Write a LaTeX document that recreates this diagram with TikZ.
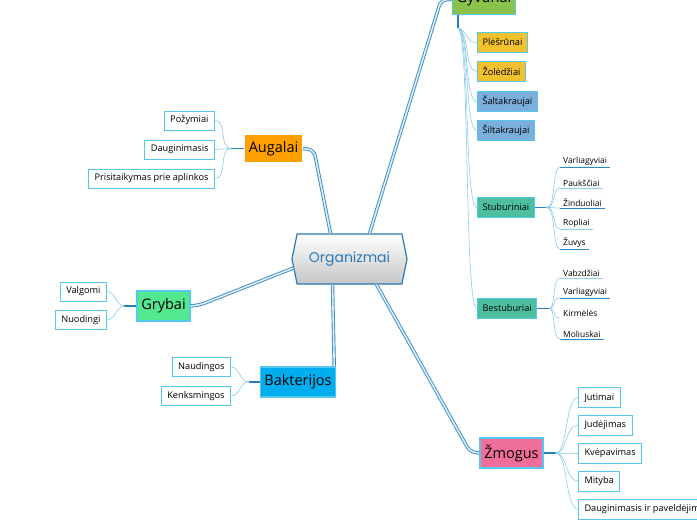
\documentclass[tikz,border=0pt]{standalone}
\usepackage{fontspec}
\setmainfont{Open Sans}
\newfontfamily\orgfont{Poppins}
\usetikzlibrary{shapes.symbols}
\definecolor{orgblue}{HTML}{2A7AB8}
\definecolor{trunkblue}{HTML}{3A8CC8}
\definecolor{trunkfill}{HTML}{DDEEF9}
\definecolor{twigblue}{HTML}{8ACBEA}
\definecolor{stubblue}{HTML}{2A7FC0}
\definecolor{leafborder}{HTML}{55C8F0}
\definecolor{lineA}{HTML}{2A8AD0}
\definecolor{lineB}{HTML}{8CD0F0}
\definecolor{augalai}{HTML}{FF9F00}
\definecolor{grybai}{HTML}{52E890}
\definecolor{bakterijos}{HTML}{00AEEF}
\definecolor{gyvunai}{HTML}{8BC34A}
\definecolor{zmogus}{HTML}{F06E9C}
\definecolor{geltona}{HTML}{F2C12E}
\definecolor{melyna}{HTML}{7BAEDB}
\definecolor{zalsva}{HTML}{4DBF9F}
\tikzset{
  trunk/.style={draw=trunkblue, double=trunkfill, double distance=1.6pt, line width=0.9pt, rounded corners=6pt},
  twig/.style={draw=twigblue, line width=0.6pt},
  stub/.style={draw=stubblue, line width=1.2pt},
  topic/.style={draw=leafborder, line width=1.2pt, minimum height=30pt, inner xsep=4pt, font=\fontsize{14.5}{16}\selectfont},
  leaf/.style={draw=leafborder, line width=1pt, fill=white, minimum height=19pt, inner xsep=6pt, font=\fontsize{9.2}{11}\selectfont},
  subleaf/.style={leaf, anchor=west, minimum height=20pt, inner xsep=5pt},
  tag/.style={anchor=south west, inner xsep=3pt, inner ysep=1.5pt, font=\fontsize{8.4}{10}\selectfont}
}
\begin{document}
\begin{tikzpicture}[x=1pt,y=-1pt]
\useasboundingbox (0,0) rectangle (697,520);

\node[signal, signal to=east and west, signal pointer angle=157, draw=orgblue, line width=1.2pt,
      top color=white, bottom color=gray!45, minimum width=115pt, minimum height=50pt,
      text=orgblue, font=\orgfont\fontsize{14}{16}\selectfont] (org) at (349.5,259) {Organizmai};

\node[topic, fill=augalai, draw=none, minimum width=57pt, minimum height=27pt] (augalai) at (273.5,148.5) {Augalai};
\node[topic, fill=grybai, minimum width=53pt] (grybai) at (163.5,306) {Grybai};
\node[topic, fill=bakterijos, minimum width=74pt] (bakt) at (298,382) {Bakterijos};
\node[topic, fill=gyvunai, minimum width=62pt, anchor=south west] (gyvunai) at (452,15) {Gyvūnai};
\node[topic, fill=zmogus, minimum width=63pt] (zmogus) at (511.5,453) {Žmogus};

% pagrindines sakos
\draw[trunk] (augalai.east) -- (314,150) -- ([xshift=-19pt]org.north);
\draw[trunk] ([xshift=20pt]org.north) -- (441,0) -- (gyvunai.west);
\draw[trunk] ([xshift=2pt,yshift=-9pt]org.west) -- (200,305) -- (grybai.east);
\draw[trunk] ([xshift=-17pt]org.south) -- ([xshift=-2pt]bakt.north east);
\draw[trunk] ([xshift=27pt]org.south) -- (470,452) -- (zmogus.west);

% augalai
\foreach \name/\txt/\y in {pozymiai/Požymiai/120.5, daug/Dauginimasis/149.5, prisit/Prisitaikymas prie aplinkos/178.5}
\node[leaf, anchor=east] (\name) at (215,\y) {\txt};
\draw[stub] (augalai.west) -- ++(-13,0) coordinate (aj);
\foreach \name in {pozymiai,daug,prisit}
\draw[twig] (aj) to[out=180,in=0] (\name.east);

% grybai
\foreach \name/\txt/\y in {valg/Valgomi/291.5, nuod/Nuodingi/320}
\node[leaf, anchor=east] (\name) at (107,\y) {\txt};
\draw[stub] (grybai.west) -- ++(-12,0) coordinate (gr);
\foreach \name in {valg,nuod}
\draw[twig] (gr) to[out=180,in=0] (\name.east);

% bakterijos
\foreach \name/\txt/\y in {naud/Naudingos/367, kenks/Kenksmingos/396}
\node[leaf, anchor=east] (\name) at (231,\y) {\txt};
\draw[stub] (bakt.west) -- ++(-11,0) coordinate (bk);
\foreach \name in {naud,kenks}
\draw[twig] (bk) to[out=180,in=0] (\name.east);

% gyvunai
\foreach \name/\txt/\col/\y in {plesr/Plėšrūnai/geltona/42.5, zoled/Žolėdžiai/geltona/71.5, salt/Šaltakraujai/melyna/101.5,
  silt/Šiltakraujai/melyna/130.5, stuburiniai/Stuburiniai/zalsva/207.5, bestuburiai/Bestuburiai/zalsva/308.5}
\node[subleaf, fill=\col] (\name) at (477,\y) {\txt};
\draw[stub] ([xshift=6pt]gyvunai.south west) -- ++(0,13) coordinate (gj);
\foreach \name/\y in {plesr/42.5, zoled/71.5, salt/101.5, silt/130.5, stuburiniai/207.5, bestuburiai/308.5}
\draw[twig] (gj) .. controls (470,32) and (464,\y) .. (\name.west);

% stuburiniai
\draw[stub] (stuburiniai.east) -- ++(12,0) coordinate (sj);
\foreach \name/\txt/\col/\y in {varl/Varliagyviai/lineA/167, pauk/Paukščiai/lineB/188, zind/Žinduoliai/lineA/208,
  ropl/Ropliai/lineB/229, zuv/Žuvys/lineA/249} {
\node[tag] (\name) at (560,\y) {\txt};
\draw[\col, line width=0.8pt] (\name.south west) -- (\name.south east);
\draw[twig] (sj) .. controls (556,207.5) and (552,\y) .. (\name.south west);
}

% bestuburiai
\draw[stub] (bestuburiai.east) -- ++(12,0) coordinate (bj);
\foreach \name/\txt/\col/\y in {vabz/Vabzdžiai/lineB/278, varlb/Varliagyviai/lineA/298, kirm/Kirmėlės/white/318,
  mol/Moliuskai/lineA/339} {
\node[tag] (\name) at (560,\y) {\txt};
\draw[\col, line width=0.8pt] (\name.south west) -- (\name.south east);
\draw[twig] (bj) .. controls (556,308.5) and (552,\y) .. (\name.south west);
}

% zmogus
\foreach \name/\txt/\y in {jut/Jutimai/397.5, jud/Judėjimas/425, kvep/Kvėpavimas/453, mit/Mityba/481,
  daugp/Dauginimasis ir paveldėjimas/509}
\node[leaf, anchor=west, minimum height=20pt] (\name) at (578,\y) {\txt};
\draw[stub] (zmogus.east) -- ++(12,0) coordinate (zj);
\foreach \name/\y in {jut/397.5, jud/425, kvep/453, mit/481, daugp/509}
\draw[twig] (zj) .. controls (568,453) and (565,\y) .. (\name.west);
\end{tikzpicture}
\end{document}
